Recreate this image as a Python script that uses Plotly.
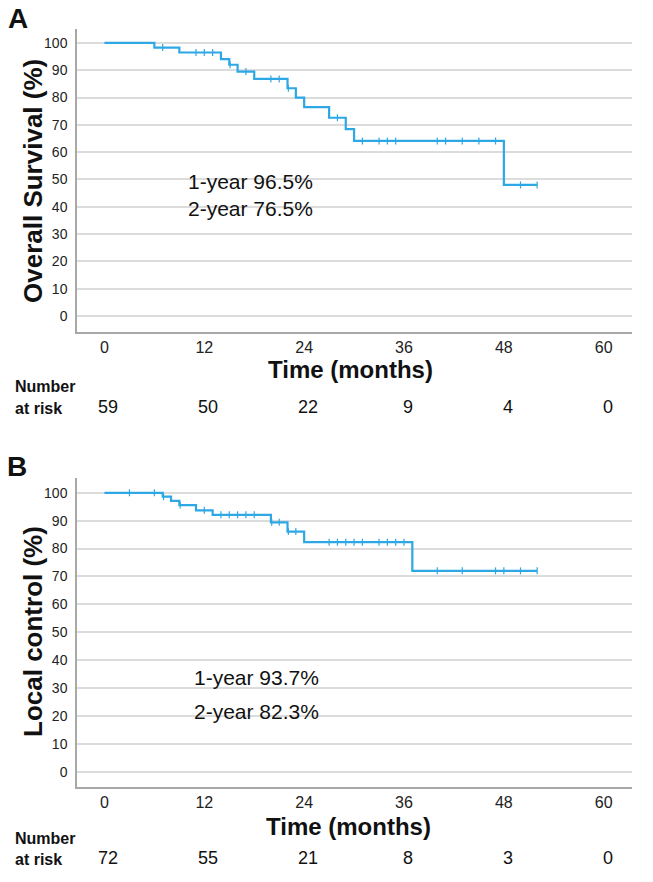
import plotly.graph_objects as go

W, H = 653, 882
FONT = "Liberation Sans, Arial, sans-serif"
BLUE = "#2ea8e5"

# ---------------- data ----------------
# Panel A: overall survival (step function)
os_times = [0, 6, 9, 14, 15, 16, 18, 22, 23, 24, 27, 29, 30, 48, 52]
os_surv = [100, 98.3, 96.5, 94.1, 92.0, 89.5, 86.8, 83.4, 80.0, 76.5, 72.6, 68.4, 64.1, 48.0, 48.0]
os_censor = [7, 11, 12, 13, 15.1, 17, 20, 21, 22.1, 28, 31, 33, 34, 35, 40, 41, 43, 45, 47, 50, 52]
os_risk = [59, 50, 22, 9, 4, 0]
os_text = ["1-year 96.5%", "2-year 76.5%"]

# Panel B: local control (step function)
lc_times = [0, 7, 8, 9, 11, 13, 20, 22, 24, 37, 52]
lc_surv = [100, 98.6, 97.1, 95.6, 93.7, 92.1, 89.4, 86.1, 82.3, 72.0, 72.0]
lc_censor = [3, 6, 7.1, 9.1, 12, 14, 15, 16, 17, 18, 20.1, 21, 22.1, 23, 27, 28, 29, 30, 31, 33, 34, 35, 36,
             40, 43, 47, 48, 50, 52]
lc_risk = [72, 55, 21, 8, 3, 0]
lc_text = ["1-year 93.7%", "2-year 82.3%"]

risk_times = [0, 12, 24, 36, 48, 60]
x_ticks = [0, 12, 24, 36, 48, 60]
y_ticks = list(range(0, 101, 10))


def step_value(times, surv, t):
    v = surv[0]
    for ti, si in zip(times, surv):
        if ti <= t:
            v = si
    return v


def px(x):
    return x / W


def py(y):
    return 1 - y / H


fig = go.Figure()

for times, surv, cens, xa, ya in [
    (os_times, os_surv, os_censor, "x", "y"),
    (lc_times, lc_surv, lc_censor, "x2", "y2"),
]:
    fig.add_trace(go.Scatter(x=times, y=surv, mode="lines", line=dict(color=BLUE, width=2.2, shape="hv"),
                             xaxis=xa, yaxis=ya, hoverinfo="skip", showlegend=False))
    fig.add_trace(go.Scatter(x=cens, y=[step_value(times, surv, c) for c in cens], mode="markers",
                             marker=dict(symbol="line-ns", size=5, line=dict(color=BLUE, width=1.2)),
                             xaxis=xa, yaxis=ya, hoverinfo="skip", showlegend=False))

xdom = [px(77), px(632)]
common_x = dict(range=[-3.3, 63.4], tickvals=x_ticks, showgrid=False, zeroline=False, showline=True,
                linecolor="#a8a8a8", linewidth=1.5, ticks="", tickfont=dict(family=FONT, size=16, color="#222"),
                domain=xdom)
common_y = dict(tickvals=y_ticks, showgrid=True, gridcolor="#dcdcdc", gridwidth=1.5, zeroline=False,
                showline=True, linecolor="#a8a8a8", linewidth=1.5, ticks="",
                tickfont=dict(family=FONT, size=14, color="#222"), ticklabelstandoff=5)

fig.update_layout(
    width=W, height=H, margin=dict(l=0, r=0, t=0, b=0),
    paper_bgcolor="white", plot_bgcolor="white",
    xaxis=dict(common_x, anchor="y"),
    yaxis=dict(common_y, anchor="x", range=[-5.86, 105.1], domain=[py(332), py(29)]),
    xaxis2=dict(common_x, anchor="y2"),
    yaxis2=dict(common_y, anchor="x2", range=[-5.5, 105.3], domain=[py(787), py(478)]),
)

ann = []
shapes = []


def txt(x, y, s, size, bold=False, xanchor="center", xref="paper", xshift=0, angle=0):
    ann.append(dict(x=x, y=y, xref=xref, yref="paper", text=f"<b>{s}</b>" if bold else s, showarrow=False,
                    xanchor=xanchor, yanchor="middle", xshift=xshift, textangle=angle,
                    font=dict(family=FONT, size=size, color="#111")))


# Panel A texts
txt(px(17.5), py(18), "A", 28, bold=True)
txt(px(33), py(181), "Overall Survival (%)", 26, bold=True, angle=-90)
txt(px(350), py(369), "Time (months)", 24, bold=True)
txt(px(13), py(387), "Number", 16, bold=True, xanchor="left")
txt(px(13), py(408), "at risk", 16, bold=True, xanchor="left")
for t, n in zip(risk_times, os_risk):
    txt(t, py(407), str(n), 18, xref="x", xshift=4)
shapes.append(dict(type="rect", xref="paper", yref="paper", x0=px(176), x1=px(370), y0=py(226), y1=py(164),
                   fillcolor="white", line=dict(width=0), layer="between"))
txt(px(250), py(182), os_text[0], 21)
txt(px(250), py(209), os_text[1], 21)

# Panel B texts
txt(px(17), py(467), "B", 28, bold=True)
txt(px(33), py(632), "Local control (%)", 26, bold=True, angle=-90)
txt(px(348), py(826), "Time (months)", 24, bold=True)
txt(px(13), py(838), "Number", 16, bold=True, xanchor="left")
txt(px(13), py(859), "at risk", 16, bold=True, xanchor="left")
for t, n in zip(risk_times, lc_risk):
    txt(t, py(858), str(n), 18, xref="x2", xshift=4)
shapes.append(dict(type="rect", xref="paper", yref="paper", x0=px(177), x1=px(343), y0=py(730), y1=py(646),
                   fillcolor="white", line=dict(width=0), layer="between"))
txt(px(256), py(677), lc_text[0], 21)
txt(px(256), py(711), lc_text[1], 21)

fig.update_layout(annotations=ann, shapes=shapes)
fig.write_html("out.html", config={"displayModeBar": False},
               post_script="document.body.style.margin='0';")
